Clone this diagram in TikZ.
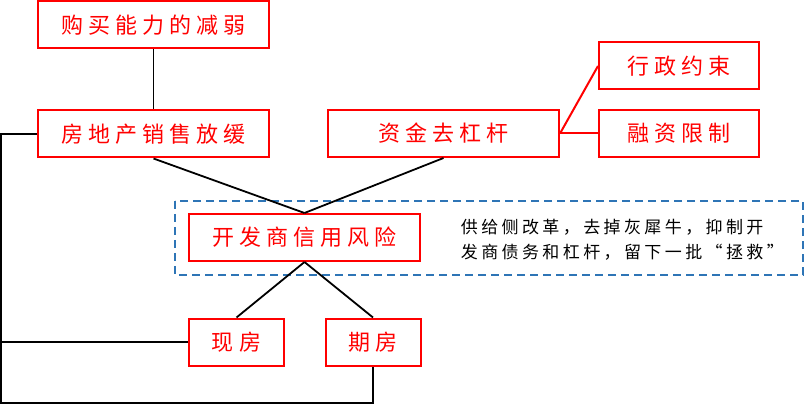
\documentclass[tikz,border=0pt]{standalone}
\usepackage{fontspec}
\newfontfamily\cjkbox[LetterSpace=23]{Noto Sans CJK SC}
\newfontfamily\cjknote[LetterSpace=20]{Noto Sans CJK SC}
\definecolor{dashblue}{RGB}{46,117,182}
\tikzset{
every picture/.style={
line width=1.8pt
},
redbox/.style={draw=red, line width=2pt, text=red, inner sep=0pt,
  minimum height=47pt, font=\cjkbox\fontsize{22}{22}\selectfont},
bigbox/.style={redbox, minimum width=231pt},
smallbox/.style={redbox, minimum width=160pt},
housebox/.style={redbox, minimum width=95pt}
}

\begin{document}
\begin{tikzpicture}[x=1pt, y=-1pt]
  \useasboundingbox (0,0) rectangle (806,406);

  % dashed frame round the developer risk
  \draw[dashblue, line width=2pt, dash pattern=on 8pt off 5pt] (175,201) rectangle (803,275);

  \foreach \name/\x/\y/\txt in {buy/153.5/25/购买能力的减弱, sale/153.5/134/房地产销售放缓,
    fund/443.5/133.5/资金去杠杆, dev/304.5/237.5/开发商信用风险}{
    \node[bigbox] (\name) at (\x,\y) {\txt};
  }
  \foreach \name/\y/\txt in {admin/66/行政约束, finance/133.5/融资限制}{
    \node[smallbox] (\name) at (679,\y) {\txt};
  }
  \node[housebox] (spot) at (236.5,342) {现房};
  \node[housebox] (future) at (373,342) {期房};

  \node[anchor=west, align=left, inner sep=0pt, font=\cjknote\fontsize{17}{25}\selectfont]
    (note) at (460,239.5) {供给侧改革，去掉灰犀牛，抑制开\\发商债务和杠杆，留下一批“拯救”};

  \draw (buy) -- (sale);
  \draw (sale.south) -- (dev.north);
  \draw (fund.south) -- (dev.north);
  \draw (dev.south) -- (spot.north);
  \draw (dev.south) -- (future.north);
  \draw[red, line width=2pt] (fund.east) -- (admin.west);
  \draw[red, line width=2pt] (fund.east) -- (finance.west);

  % loop down the left side
  \coordinate (lt) at (1,134);
  \coordinate (lm) at (1,342);
  \coordinate (lb) at (1,403);
  \draw (sale.west) -- (lt) -- (lb) -| (future.south);
  \draw (lm) -- (spot.west);
\end{tikzpicture}
\end{document}
